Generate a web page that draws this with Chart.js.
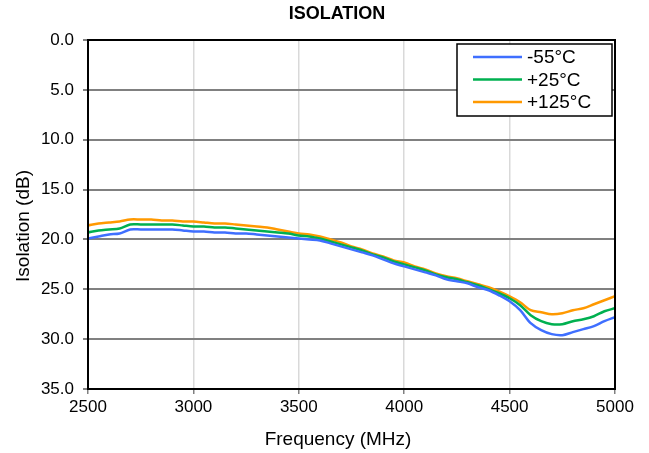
<!DOCTYPE html>
<html>
<head>
<meta charset="utf-8">
<script src="https://cdn.jsdelivr.net/npm/chart.js@4"></script>
<style>
  html, body { margin: 0; padding: 0; background: #fff; }
  #wrap { width: 649px; height: 453px; }
</style>
</head>
<body>
<div id="wrap"><canvas id="iso" width="649" height="453"></canvas></div>
<script>
// frequency points (MHz)
var freqs = [2500,2550,2600,2650,2700,2750,2800,2850,2900,2950,3000,3050,3100,3150,3200,3250,3300,3350,3400,3450,
             3500,3550,3600,3650,3700,3750,3800,3850,3900,3950,4000,4050,4100,4150,4200,4250,4300,4350,4400,4450,
             4500,4550,4600,4650,4700,4750,4800,4850,4900,4950,5000];

var isoCold = [19.9,19.7,19.5,19.4,19.0,19.0,19.0,19.0,19.0,19.1,19.2,19.2,19.3,19.3,19.4,19.4,19.5,19.6,19.7,19.8,
               19.9,20.0,20.1,20.4,20.7,21.0,21.3,21.6,22.0,22.4,22.7,23.0,23.3,23.6,24.0,24.2,24.4,24.8,25.1,25.6,
               26.2,27.1,28.4,29.1,29.5,29.6,29.3,29.0,28.7,28.2,27.8];

var isoRoom = [19.3,19.1,19.0,18.9,18.5,18.5,18.5,18.5,18.5,18.6,18.7,18.7,18.8,18.8,18.9,19.0,19.1,19.2,19.3,19.4,
               19.6,19.7,19.9,20.2,20.5,20.8,21.1,21.5,21.8,22.2,22.5,22.8,23.1,23.5,23.8,24.0,24.3,24.6,25.0,25.4,
               25.9,26.6,27.6,28.2,28.5,28.5,28.2,28.0,27.7,27.2,26.9];

var isoHot  = [18.6,18.4,18.3,18.2,18.0,18.0,18.0,18.1,18.1,18.2,18.2,18.3,18.4,18.4,18.5,18.6,18.7,18.8,19.0,19.2,
               19.4,19.5,19.7,20.0,20.3,20.7,21.0,21.4,21.7,22.1,22.3,22.7,23.0,23.4,23.7,23.9,24.2,24.5,24.8,25.2,
               25.7,26.3,27.1,27.3,27.5,27.4,27.1,26.9,26.5,26.1,25.7];

var seriesNames = ['-55°C', '+25°C', '+125°C'];
var seriesColors = ['#3f6fff', '#00b050', '#ff9900'];

var chartTitle = 'ISOLATION';
var xTitle = 'Frequency (MHz)';
var yTitle = 'Isolation (dB)';

var FONT = "'Liberation Sans', Arial, sans-serif";

function toXY(arr){
    return arr.map(function(v, i){ return {x: freqs[i], y: v}; });
}

// titles (excel-style placement), black frame, boxed legend top right
var decor = {
    id: 'decor',
    afterDraw: function(chart){
        var ctx = chart.ctx, a = chart.chartArea;
        ctx.save();
        ctx.fillStyle = '#000';
        ctx.textAlign = 'center';
        ctx.textBaseline = 'middle';
        ctx.font = 'bold 18px ' + FONT;
        ctx.fillText(chartTitle, 337, 14);
        ctx.font = '19px ' + FONT;
        ctx.fillText(xTitle, 338, 440);
        ctx.translate(24, 226);
        ctx.rotate(-Math.PI / 2);
        ctx.fillText(yTitle, 0, 0);
        ctx.restore();

        ctx.save();
        ctx.strokeStyle = '#000';
        ctx.lineWidth = 2;
        ctx.strokeRect(a.left, a.top, a.right - a.left, a.bottom - a.top);

        var bx = a.right - 158, by = a.top + 4, bw = 155, bh = 72;
        ctx.fillStyle = '#fff';
        ctx.fillRect(bx, by, bw, bh);
        ctx.lineWidth = 1.5;
        ctx.strokeRect(bx, by, bw, bh);
        ctx.font = '19px ' + FONT;
        ctx.textBaseline = 'middle';
        chart.data.datasets.forEach(function(ds, i){
            var yy = by + 13 + i * 22.5;
            ctx.strokeStyle = ds.borderColor;
            ctx.lineWidth = 2.5;
            ctx.beginPath();
            ctx.moveTo(bx + 16, yy);
            ctx.lineTo(bx + 65, yy);
            ctx.stroke();
            ctx.fillStyle = '#000';
            ctx.fillText(ds.label, bx + 70, yy + 1);
        });
        ctx.restore();
    }
};

var datasets = [isoCold, isoRoom, isoHot].map(function(arr, i){
    return {
        label: seriesNames[i],
        data: toXY(arr),
        borderColor: seriesColors[i],
        backgroundColor: seriesColors[i],
        borderWidth: 2.5,
        pointRadius: 0,
        tension: 0.3,
        fill: false
    };
});

new Chart(document.getElementById('iso').getContext('2d'), {
    type: 'line',
    data: { datasets: datasets },
    options: {
        responsive: false,
        animation: false,
        layout: { padding: { top: 40, right: 34, left: 0, bottom: 0 } },
        plugins: {
            legend: { display: false },
            tooltip: { enabled: false },
            title: { display: false }
        },
        scales: {
            x: {
                type: 'linear',
                min: 2500, max: 5000,
                afterFit: function(s){ s.height = 64; },
                ticks: {
                    stepSize: 500, color: '#000', padding: 3,
                    font: { family: FONT, size: 17 },
                    callback: function(v){ return String(v); }
                },
                grid: { color: '#d9d9d9', lineWidth: 1.5, tickLength: 5, tickColor: '#808080' },
                border: { display: false }
            },
            y: {
                reverse: true,
                min: 0, max: 35,
                afterFit: function(s){ s.width = 88; },
                ticks: {
                    stepSize: 5, color: '#000', padding: 9,
                    font: { family: FONT, size: 17 },
                    callback: function(v){ return Number(v).toFixed(1); }
                },
                grid: { color: '#808080', lineWidth: 2, tickLength: 5 },
                border: { display: false }
            }
        }
    },
    plugins: [decor]
});
</script>
</body>
</html>
